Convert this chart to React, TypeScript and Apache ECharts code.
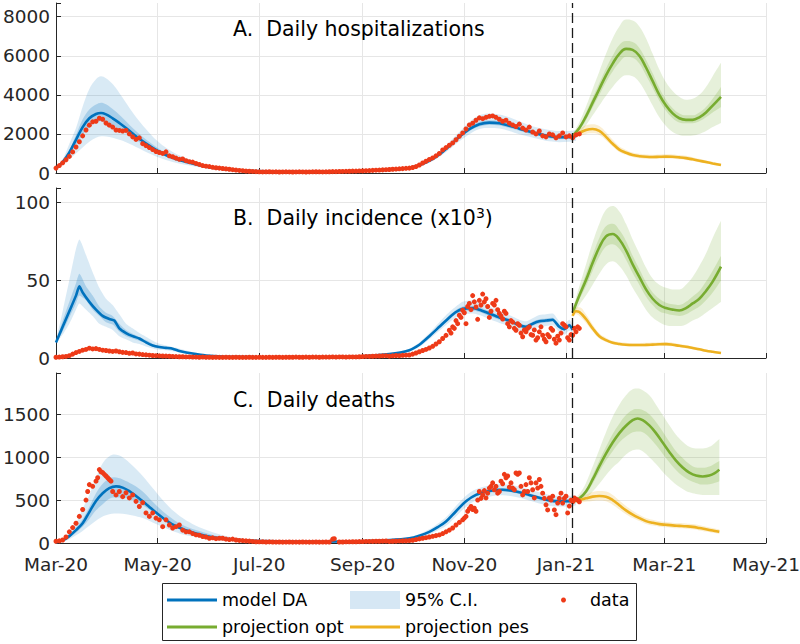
import { useEffect, useRef } from 'react';
import * as echarts from 'echarts';

const FONT = "'DejaVu Sans', sans-serif";

// x = day offset from 1 Mar 2020 (day 0) to 1 May 2021 (day 426)
const dayCount = 427;
const projectionStartDay = 310;
const monthNames = ['Jan', 'Feb', 'Mar', 'Apr', 'May', 'Jun', 'Jul', 'Aug', 'Sep', 'Oct', 'Nov', 'Dec'];

// ---------------- A. Daily hospitalizations ----------------
const hospData = [[0,250],[2,380],[4,520],[6,680],[8,850],[10,1080],[12,1330],[14,1600],[16,1900],[18,2200],[20,2450],[22,2620],[24,2650],[26,2800],[28,2750],[30,2560],[32,2450],[34,2350],[36,2200],[38,2180],[40,2150],[42,2180],[44,2000],[46,1850],[48,1720],[50,1800],[52,1500],[54,1400],[56,1300],[58,1200],[60,1100],[62,1050],[64,1000],[66,1080],[68,880],[70,830],[72,760],[74,700],[76,720],[78,630],[80,580],[82,560],[84,490],[86,440],[88,380],[90,350],[92,330],[94,290],[96,270],[98,250],[100,230],[102,210],[104,190],[106,170],[108,150],[110,130],[112,120],[114,100],[116,90],[118,80],[120,70],[122,60],[124,55],[126,60],[128,65],[130,55],[132,60],[134,50],[136,55],[138,60],[140,55],[142,50],[144,55],[146,60],[148,55],[150,50],[152,55],[154,60],[156,65],[158,60],[160,55],[162,60],[164,65],[166,70],[168,70],[170,75],[172,80],[174,85],[176,90],[178,95],[180,100],[182,105],[184,110],[186,120],[188,125],[190,135],[192,145],[194,150],[196,160],[198,170],[200,180],[202,190],[204,200],[206,215],[208,225],[210,240],[212,250],[214,280],[216,330],[218,410],[220,510],[222,600],[224,690],[226,770],[228,880],[230,1000],[232,1180],[234,1300],[236,1420],[238,1540],[240,1700],[242,1880],[244,2050],[246,2250],[248,2460],[250,2550],[252,2700],[254,2820],[256,2780],[258,2850],[260,2900],[262,2920],[264,2850],[266,2750],[268,2650],[270,2700],[272,2550],[274,2460],[276,2380],[278,2500],[280,2300],[282,2200],[284,2350],[286,2100],[288,2000],[290,2150],[292,1900],[294,1850],[296,2000],[298,1950],[300,1800],[302,1900],[304,2050],[306,1850],[308,1900],[310,1800],[312,1950],[314,2000]];
const hospModel = [[0,250],[4,560],[8,1050],[12,1700],[16,2350],[20,2800],[24,3020],[27,3070],[30,3000],[34,2800],[38,2560],[42,2300],[46,2020],[50,1750],[55,1450],[60,1180],[65,960],[70,780],[75,640],[80,520],[86,400],[92,300],[100,210],[110,140],[120,100],[135,70],[150,60],[165,65],[180,90],[195,140],[205,190],[212,260],[218,400],[224,620],[230,950],[236,1380],[242,1850],[248,2250],[254,2500],[260,2580],[266,2550],[272,2420],[278,2270],[284,2120],[290,1990],[296,1880],[302,1830],[308,1850],[312,1900]];
// [day, lower, upper]
const hospCIOuter = [[0,200,300],[4,380,700],[8,700,1500],[12,1000,2300],[16,1300,3400],[20,1600,4300],[24,1800,4800],[27,1880,4950],[30,1870,4850],[34,1800,4550],[38,1700,4100],[42,1580,3600],[46,1420,3100],[50,1250,2650],[55,1030,2150],[60,850,1700],[65,690,1350],[70,560,1080],[75,460,870],[80,380,700],[86,290,530],[92,220,400],[100,160,290],[110,110,190],[120,80,130],[135,55,90],[150,48,75],[165,52,80],[180,75,110],[195,120,165],[205,160,220],[212,220,300],[218,340,470],[224,530,720],[230,820,1100],[236,1200,1580],[242,1620,2100],[248,1980,2600],[254,2250,2950],[260,2300,3050],[266,2280,3000],[272,2150,2850],[278,1980,2650],[284,1850,2450],[290,1730,2300],[296,1620,2200],[302,1580,2150],[308,1600,2150],[312,1650,2200]];
const hospCIInner = [[0,240,260],[4,500,620],[8,930,1180],[12,1450,1950],[16,1950,2750],[20,2350,3250],[24,2580,3500],[27,2650,3600],[30,2600,3520],[34,2450,3280],[38,2250,2980],[42,2040,2650],[46,1800,2300],[50,1570,2000],[55,1300,1650],[60,1060,1340],[65,870,1080],[70,710,880],[75,585,720],[80,480,580],[86,370,440],[92,280,330],[100,195,230],[110,130,150],[120,92,108],[135,65,75],[150,56,64],[165,60,70],[180,85,95],[195,130,150],[205,180,200],[212,245,275],[218,375,425],[224,585,655],[230,900,1000],[236,1310,1450],[242,1760,1940],[248,2140,2360],[254,2380,2620],[260,2460,2700],[266,2430,2670],[272,2300,2540],[278,2160,2380],[284,2010,2230],[290,1890,2090],[296,1780,1980],[302,1730,1930],[308,1750,1950],[312,1800,2000]];
const hospOpt = [[310,1900],[314,2300],[318,2900],[322,3600],[326,4300],[330,5000],[334,5600],[338,6100],[342,6350],[346,6300],[350,6000],[354,5400],[358,4700],[362,4000],[366,3450],[370,3050],[374,2800],[378,2720],[382,2720],[386,2850],[390,3100],[394,3450],[399,3900]];
const hospOptOuter = [[310,1800,2000],[314,2050,2600],[318,2450,3400],[322,2950,4300],[326,3450,5200],[330,3950,6100],[334,4400,6900],[338,4800,7500],[342,5000,7850],[346,4950,7800],[350,4650,7500],[354,4100,6900],[358,3450,6100],[362,2850,5300],[366,2400,4650],[370,2100,4200],[374,1950,3900],[378,1900,3750],[382,1920,3800],[386,2000,4000],[390,2150,4400],[394,2350,4950],[399,2560,5640]];
const hospOptInner = [[310,1860,1940],[314,2200,2400],[318,2700,3100],[322,3350,3850],[326,4000,4600],[330,4650,5350],[334,5200,6000],[338,5650,6550],[342,5950,6750],[346,5900,6700],[350,5600,6400],[354,5000,5800],[358,4350,5100],[362,3700,4350],[366,3180,3750],[370,2800,3320],[374,2580,3050],[378,2540,2950],[382,2550,2950],[386,2650,3100],[390,2850,3380],[394,3100,3800],[399,3380,4400]];
const hospPes = [[310,1900],[314,2050],[318,2200],[322,2250],[326,2150],[330,1850],[334,1500],[338,1200],[342,1040],[346,920],[350,860],[354,830],[358,820],[362,830],[366,840],[370,830],[374,800],[378,760],[382,700],[386,630],[390,560],[394,490],[399,410]];
const hospPesBand = [[310,1850,1950],[314,1900,2250],[318,2000,2450],[322,2030,2500],[326,1950,2400],[330,1680,2080],[334,1360,1700],[338,1080,1370],[342,930,1180],[346,820,1050],[350,760,980],[354,730,950],[358,720,940],[362,730,950],[366,740,960],[370,730,950],[374,700,920],[378,660,880],[382,610,810],[386,545,730],[390,480,650],[394,420,570],[399,350,480]];

// ---------------- B. Daily incidence (x10^3) ----------------
const incData = [[0,0.5],[2,0.6],[4,0.8],[6,1],[8,1.5],[10,2.5],[12,3.5],[14,4.2],[16,5],[18,5.5],[20,6.3],[22,5.8],[24,6],[26,5.5],[28,5],[30,4.8],[32,4.5],[34,4.2],[36,4.5],[38,4],[40,3.6],[42,3.5],[44,3],[46,3.2],[48,2.6],[50,2.5],[52,2.2],[54,2],[56,1.8],[58,1.6],[60,1.5],[62,1.4],[64,1.3],[66,1.2],[68,1.1],[70,1],[72,0.9],[74,0.8],[76,0.8],[78,0.7],[80,0.7],[82,0.6],[84,0.6],[86,0.5],[88,0.6],[90,0.5],[92,0.5],[94,0.4],[96,0.5],[98,0.4],[100,0.4],[102,0.5],[104,0.4],[106,0.4],[108,0.5],[110,0.4],[112,0.4],[114,0.4],[116,0.5],[118,0.4],[120,0.4],[122,0.5],[124,0.4],[126,0.4],[128,0.5],[130,0.4],[132,0.5],[134,0.5],[136,0.4],[138,0.5],[140,0.5],[142,0.5],[144,0.6],[146,0.5],[148,0.5],[150,0.6],[152,0.5],[154,0.6],[156,0.6],[158,0.5],[160,0.6],[162,0.6],[164,0.6],[166,0.7],[168,0.6],[170,0.7],[172,0.7],[174,0.6],[176,0.7],[178,0.7],[180,0.7],[182,0.8],[184,0.9],[186,1],[188,1],[190,1.1],[192,1.2],[194,1.3],[196,1.4],[198,1.5],[200,1.2],[202,1.4],[204,1.6],[206,1.5],[208,1.7],[210,1.8],[212,1.9],[214,2.5],[216,3.2],[218,4],[220,4.8],[222,5.5],[224,6.4],[226,7.5],[228,9],[230,10.4],[232,12.5],[234,14.5],[236,17.8],[237,16],[238,20],[239,19],[240,24],[241,22],[242,27.4],[243,26],[244,30.6],[245,29],[246,22],[247,33],[248,35],[249,31],[250,40],[251,36],[252,32.7],[253,24.8],[254,37],[255,34],[256,41],[257,36],[258,38],[259,33],[260,26],[261,30],[262,35],[263,34],[264,37],[265,31],[266,28.6],[267,27],[268,25],[269,30],[270,28.6],[271,22],[272,20],[273,24],[274,23],[275,19],[276,17.8],[277,22],[278,21],[279,16],[280,13.6],[281,18],[282,16.8],[283,19],[284,20],[285,15],[286,14.6],[287,18],[288,11.5],[289,13],[290,16.8],[291,20],[292,14.6],[293,12],[294,10.4],[295,15],[296,13.6],[297,19],[298,17.8],[299,12],[300,9.5],[301,14],[302,11.5],[303,16],[304,22],[305,21],[306,20],[307,13],[308,11.5],[309,15],[310,14.6],[311,19],[312,16.8],[313,20],[314,19]];
const incModel = [[0,10],[4,20],[8,30],[12,40],[14,46],[16,42],[20,36],[24,31],[28,27],[32,25],[35,24],[38,19],[42,16],[46,14],[50,12.5],[54,10],[58,8],[62,7],[66,6.5],[70,6],[74,4.5],[78,3.5],[84,2.5],[90,1.6],[100,1],[120,0.6],[150,0.5],[180,0.9],[200,2.5],[212,5],[218,8.5],[224,14],[230,20],[236,26],[240,29.5],[244,31.5],[250,32],[254,31],[260,28.5],[266,26],[272,24],[278,21],[282,20],[286,22],[290,23.5],[294,24],[298,24.5],[302,20],[305,18.5],[308,21],[310,18]];
const incCIOuter = [[0,9,11],[4,15,30],[8,22,50],[12,31,70],[14,35,76],[18,31,66],[22,27,55],[26,22,45],[30,20,38],[34,18,34],[38,14,28],[42,12,22],[46,10,19],[50,9,16],[55,7,13],[60,5.5,10],[66,5,8],[72,4,6.5],[80,2.8,4.2],[90,1.2,2],[100,0.7,1.3],[120,0.4,0.8],[150,0.3,0.7],[180,0.6,1.2],[200,2,3],[212,4,6],[218,7,10],[224,12,16],[230,17.5,23],[236,23,29.5],[240,26,33],[244,28,36],[250,28.5,37],[254,27.5,36],[260,25,33],[266,22.5,30],[272,20.5,27.5],[278,17.5,24.5],[282,16.5,23.5],[286,18.5,25.5],[290,20,27.5],[294,20.5,28],[298,21,28.5],[302,16.5,23.5],[305,15,22],[308,17.5,24.5],[310,16,21]];
const incCIInner = [[0,9.5,10.5],[4,17,24],[8,26,36],[12,35,48],[14,40,54],[18,37,46],[22,31,40],[26,27,33],[30,23,29],[34,21.5,27],[38,17,22],[42,14,18],[46,12.5,15.5],[50,11,13.5],[55,9,11],[60,6.4,8],[66,5.8,7.1],[72,4.8,5.8],[80,3.1,3.8],[90,1.4,1.8],[100,0.9,1.1],[120,0.5,0.7],[150,0.4,0.6],[180,0.8,1],[200,2.3,2.7],[212,4.6,5.4],[218,8,9],[224,13.2,14.8],[230,19,21],[236,24.8,27.2],[240,28.2,30.8],[244,30,33],[250,30.5,33.5],[254,29.5,32.5],[260,27,30],[266,24.6,27.4],[272,22.6,25.4],[278,19.7,22.3],[282,18.7,21.3],[286,20.7,23.3],[290,22.2,24.8],[294,22.7,25.3],[298,23.2,25.8],[302,18.7,21.3],[305,17.2,19.8],[308,19.7,22.3],[310,17.2,18.8]];
const incOpt = [[310,29],[314,40],[318,50],[322,61],[326,71],[330,78],[334,79.5],[338,76],[342,69],[346,60],[350,52],[354,44],[358,38],[362,34],[366,32],[370,31],[374,30.5],[378,32],[382,35],[386,38],[390,43],[394,49],[399,58.6]];
const incOptOuter = [[310,27,31],[314,34,46],[318,40,60],[322,47,74],[326,54,86],[330,60,95],[334,62,97.5],[338,59,94],[342,53,86],[346,45,76],[350,38,67],[354,31,58],[358,26,51],[362,23,47],[366,21,45],[370,20.5,44],[374,20.5,44],[378,21.5,47],[382,24,52],[386,26,59],[390,29,67],[394,32,77],[399,36,88]];
const incOptInner = [[310,28,30],[314,37.5,42.5],[318,46,54],[322,56,66],[326,65,77],[330,71.5,84.5],[334,73,86],[338,70,82],[342,63,75],[346,54.5,65.5],[350,47,57],[354,39.5,48.5],[358,34,42],[362,30,38],[366,28.5,35.5],[370,27.5,34.5],[374,27,34],[378,28,36],[382,30.5,39.5],[386,33,43],[390,37,49],[394,42,56],[399,49.7,65.6]];
const incPes = [[310,27],[312,30],[314,29.5],[318,25],[322,19],[326,14],[330,11.5],[334,9.8],[338,9],[342,8.5],[346,8.3],[350,8.3],[354,8.4],[358,8.6],[362,8.8],[366,8.9],[370,8.5],[374,7.8],[378,7.2],[382,6.4],[386,5.6],[390,4.7],[394,4],[399,3.2]];
const incPesBand = [[310,26,28],[312,28,32.5],[314,27,32.5],[318,22.5,28],[322,17,21.5],[326,12.5,15.8],[330,10.3,13],[334,8.8,11],[338,8,10.2],[342,7.5,9.7],[346,7.3,9.5],[350,7.3,9.5],[354,7.4,9.7],[358,7.6,9.9],[362,7.8,10.1],[366,7.9,10.2],[370,7.5,9.8],[374,6.9,9],[378,6.3,8.3],[382,5.6,7.4],[386,4.8,6.5],[390,4,5.5],[394,3.4,4.7],[399,2.7,3.8]];

// ---------------- C. Daily deaths ----------------
const deathData = [[0,20],[2,25],[4,35],[6,70],[8,130],[10,180],[12,230],[14,310],[16,390],[18,500],[19,600],[20,680],[22,660],[24,720],[25,760],[26,855],[27,830],[28,820],[29,800],[30,780],[31,760],[32,740],[33,720],[34,600],[36,560],[38,600],[40,540],[42,585],[44,525],[46,560],[48,485],[50,425],[52,470],[54,350],[56,310],[58,350],[60,290],[62,270],[64,190],[66,270],[68,210],[70,175],[72,190],[74,210],[76,150],[78,130],[80,130],[82,110],[84,95],[86,90],[88,75],[90,70],[92,55],[94,60],[96,50],[98,55],[100,55],[102,45],[104,40],[106,45],[108,35],[110,30],[112,28],[114,25],[116,22],[118,18],[120,15],[122,14],[124,15],[126,12],[128,13],[130,12],[132,11],[134,12],[136,10],[138,11],[140,12],[142,10],[144,11],[146,10],[148,12],[150,11],[152,10],[154,11],[156,12],[158,10],[160,11],[162,12],[164,11],[166,45],[167,50],[170,12],[172,12],[174,14],[176,14],[178,15],[180,15],[182,16],[184,17],[186,18],[188,18],[190,19],[192,20],[194,20],[196,22],[198,23],[200,18],[202,20],[204,22],[206,24],[208,25],[210,26],[212,28],[214,32],[216,40],[218,48],[220,55],[222,62],[224,70],[226,78],[228,86],[230,94],[232,110],[234,130],[236,150],[238,175],[240,210],[242,240],[244,270],[245,290],[246,310],[247,370],[248,400],[249,425],[250,390],[251,405],[252,370],[253,500],[254,600],[255,520],[256,560],[257,610],[258,525],[259,580],[260,640],[261,660],[262,700],[263,620],[264,660],[265,580],[266,600],[267,720],[268,690],[269,800],[270,760],[271,780],[272,650],[273,700],[274,640],[275,620],[276,815],[277,800],[278,815],[279,660],[280,560],[281,600],[282,680],[283,600],[284,760],[285,700],[286,620],[287,525],[288,700],[289,640],[290,740],[291,660],[292,580],[293,520],[294,445],[295,385],[296,525],[297,500],[298,545],[299,385],[300,330],[301,465],[302,520],[303,580],[304,465],[305,520],[306,545],[307,350],[308,430],[309,500],[310,480],[311,525],[312,510],[313,500],[314,480]];
const deathModel = [[0,5],[4,30],[8,80],[12,150],[16,230],[20,360],[24,490],[28,580],[32,640],[36,660],[40,645],[44,605],[48,548],[52,485],[56,420],[60,355],[66,265],[72,195],[78,148],[84,112],[90,82],[100,52],[110,35],[120,25],[140,18],[160,15],[180,20],[200,35],[212,55],[218,85],[224,130],[229,185],[234,250],[240,370],[246,485],[252,560],[260,605],[268,620],[276,600],[284,560],[292,515],[300,488],[308,488],[312,495]];
const deathCIOuter = [[0,2,10],[4,15,45],[8,45,120],[12,90,230],[16,140,400],[20,200,560],[24,260,760],[28,310,930],[32,335,1010],[35,345,1030],[40,340,1000],[46,320,900],[52,290,780],[58,240,640],[64,190,500],[70,140,380],[76,100,290],[84,70,200],[92,45,140],[100,30,90],[110,20,55],[120,15,35],[140,12,25],[160,10,20],[180,14,26],[200,25,45],[212,40,70],[218,65,105],[224,100,160],[229,145,225],[234,200,300],[240,310,430],[246,420,550],[252,495,625],[260,540,670],[268,555,685],[276,535,665],[284,495,625],[292,450,580],[300,425,550],[308,425,550],[312,440,550]];
const deathCIInner = [[0,4,6],[4,22,38],[8,65,95],[12,120,180],[16,190,280],[20,280,420],[24,380,580],[28,450,690],[32,515,750],[35,530,765],[40,530,740],[46,500,680],[52,440,600],[58,360,480],[64,280,370],[70,210,280],[76,160,210],[84,115,150],[92,80,105],[100,50,65],[110,32,42],[120,22,30],[140,16,21],[160,13,17],[180,18,23],[200,32,39],[212,51,60],[218,80,91],[224,122,139],[229,175,196],[234,237,264],[240,354,388],[246,467,503],[252,541,580],[260,585,625],[268,600,640],[276,580,620],[284,540,580],[292,495,535],[300,468,508],[308,468,508],[312,475,515]];
const deathOpt = [[310,485],[314,520],[318,600],[322,740],[326,895],[330,1040],[334,1170],[338,1280],[342,1365],[346,1430],[349,1450],[352,1430],[356,1370],[360,1280],[364,1170],[368,1060],[372,960],[376,880],[380,820],[384,785],[388,775],[392,785],[395,810],[398,855]];
const deathOptOuter = [[310,470,500],[314,480,570],[318,520,700],[322,600,890],[326,690,1090],[330,790,1290],[334,880,1470],[338,950,1610],[342,1030,1720],[346,1080,1790],[349,1090,1800],[352,1070,1780],[356,1000,1720],[360,920,1610],[364,830,1490],[368,750,1370],[372,680,1260],[376,630,1180],[380,590,1120],[384,570,1100],[388,560,1100],[392,560,1120],[395,560,1160],[398,560,1210]];
const deathOptInner = [[310,478,492],[314,505,535],[318,570,630],[322,690,790],[326,830,960],[330,960,1120],[334,1070,1270],[338,1170,1390],[342,1240,1490],[346,1290,1550],[349,1300,1560],[352,1290,1550],[356,1230,1500],[360,1140,1410],[364,1040,1300],[368,940,1180],[372,850,1070],[376,780,990],[380,730,920],[384,700,880],[388,680,875],[392,685,890],[395,700,920],[398,720,955]];
const deathPes = [[310,485],[314,500],[318,520],[322,540],[326,548],[330,540],[334,500],[338,440],[342,380],[346,330],[350,290],[354,255],[358,235],[362,220],[366,212],[370,205],[374,200],[378,195],[382,188],[386,175],[390,160],[394,145],[398,130]];
const deathPesBand = [[310,470,500],[314,470,530],[318,480,565],[322,490,595],[326,495,605],[330,485,600],[334,445,560],[338,390,495],[342,335,430],[346,290,375],[350,255,330],[354,222,292],[358,203,270],[362,190,253],[366,183,245],[370,176,237],[374,171,232],[378,166,227],[382,159,220],[386,147,206],[390,133,190],[394,119,174],[398,105,158]];

const panelTitles = ['A.  Daily hospitalizations', '{m|B.  Daily incidence (x10}{s|3}{m|)}', 'C.  Daily deaths'];
const yMax = [8700, 109, 1980];
const yInterval = [2000, 50, 500];

const BLUE = '#0072BD';
const GREEN = '#77AC30';
const ORANGE = '#EDB120';
const RED = '#EE3A18';
const AXIS = '#262626';

const panels = [
  { data: hospData, model: hospModel, ciOuter: hospCIOuter, ciInner: hospCIInner, opt: hospOpt, optOuter: hospOptOuter, optInner: hospOptInner, pes: hospPes, pesBand: hospPesBand, smooth: 0.35 },
  { data: incData, model: incModel, ciOuter: incCIOuter, ciInner: incCIInner, opt: incOpt, optOuter: incOptOuter, optInner: incOptInner, pes: incPes, pesBand: incPesBand, smooth: 0.2 },
  { data: deathData, model: deathModel, ciOuter: deathCIOuter, ciInner: deathCIInner, opt: deathOpt, optOuter: deathOptOuter, optInner: deathOptInner, pes: deathPes, pesBand: deathPesBand, smooth: 0.35 },
];

const categories: string[] = [];
for (let i = 0; i < dayCount; i++) {
  categories.push(new Date(Date.UTC(2020, 2, 1 + i)).toISOString().slice(0, 10));
}
const isMonthTick = (_i: number, v: string) => v.slice(8) === '01' && parseInt(v.slice(5, 7), 10) % 2 === 1;
const monthLabel = (v: string) => monthNames[parseInt(v.slice(5, 7), 10) - 1] + '-' + v.slice(2, 4);

function bandSeries(p: number, band: number[][], key: string, name: string, fill: string, smooth: number) {
  const common = { type: 'line', xAxisIndex: p, yAxisIndex: p, stack: key + p, symbol: 'none', smooth, silent: true, z: 1, lineStyle: { width: 0, opacity: 0 } };
  return [
    { ...common, name: 'base', data: band.map((b) => [b[0], b[1]]) },
    { ...common, name, data: band.map((b) => [b[0], b[2] - b[1]]), areaStyle: { color: fill, opacity: 1 }, itemStyle: { color: fill } },
  ];
}

function lineSeries(p: number, data: number[][], name: string, color: string, smooth: number) {
  return { type: 'line', name, xAxisIndex: p, yAxisIndex: p, data, symbol: 'none', smooth, z: 3, lineStyle: { color, width: 2.6 }, itemStyle: { color } };
}

export default function App() {
  const ref = useRef<HTMLDivElement>(null);
  useEffect(() => {
    document.body.style.margin = '0';
    if (!ref.current) return;
    const chart = echarts.init(ref.current, null, { renderer: 'svg' });
    const tops = [3, 188, 373];
    const grids = tops.map((t) => ({ left: 56, right: 34, top: t, height: 170, outerBoundsMode: 'none' }));
    const xAxes = tops.map((_t, p) => ({
      type: 'category', gridIndex: p, data: categories, boundaryGap: false,
      axisLine: { show: true, lineStyle: { color: AXIS, width: 1 } },
      axisTick: { show: true, inside: true, length: 5, interval: isMonthTick, lineStyle: { color: AXIS } },
      axisLabel: { show: p === 2, interval: isMonthTick, formatter: monthLabel, fontFamily: FONT, fontSize: 18.5, color: AXIS, margin: 12 },
      splitLine: { show: true, interval: isMonthTick, lineStyle: { color: '#e6e6e6', width: 1 } },
    }));
    const yAxes = tops.map((_t, p) => ({
      type: 'value', gridIndex: p, min: 0, max: yMax[p], interval: yInterval[p],
      axisLine: { show: true, lineStyle: { color: AXIS, width: 1 } },
      axisTick: { show: true, inside: true, length: 5, lineStyle: { color: AXIS } },
      axisLabel: { fontFamily: FONT, fontSize: 18.5, color: AXIS, margin: 6, formatter: (v: number) => (v % yInterval[p] === 0 ? String(v) : '') },
      splitLine: { show: true, showMaxLine: false, lineStyle: { color: '#e6e6e6', width: 1 } },
    }));

    const series: any[] = [];
    panels.forEach((pn, p) => {
      series.push(...bandSeries(p, pn.ciOuter, 'ciO', '95% C.I.', 'rgba(0,114,189,0.15)', pn.smooth));
      series.push(...bandSeries(p, pn.ciInner, 'ciI', '95% C.I.', 'rgba(0,114,189,0.22)', pn.smooth));
      series.push(...bandSeries(p, pn.optOuter, 'optO', 'opt band', 'rgba(119,172,48,0.18)', 0.4));
      series.push(...bandSeries(p, pn.optInner, 'optI', 'opt band', 'rgba(119,172,48,0.22)', 0.4));
      series.push(...bandSeries(p, pn.pesBand, 'pesO', 'pes band', 'rgba(237,177,32,0.2)', 0.4));
      series.push(lineSeries(p, pn.model, 'model DA', BLUE, pn.smooth));
      series.push(lineSeries(p, pn.opt, 'projection opt', GREEN, 0.4));
      series.push(lineSeries(p, pn.pes, 'projection pes', ORANGE, 0.4));
      series.push({
        type: 'scatter', name: 'data', xAxisIndex: p, yAxisIndex: p, data: pn.data,
        symbol: 'circle', symbolSize: 5, itemStyle: { color: RED, opacity: 1 }, z: 4,
        markLine: {
          silent: true, symbol: ['none', 'none'], label: { show: false },
          lineStyle: { color: '#1a1a1a', type: [10, 5], width: 1.3 },
          data: [{ xAxis: categories[projectionStartDay] }],
        },
      });
    });

    const legendText = { fontFamily: FONT, fontSize: 17.5, color: '#000', lineHeight: 20 };
    const legendBase = { orient: 'horizontal', padding: 0, selectedMode: false, textStyle: legendText };
    const titleStyle = { fontFamily: FONT, fontSize: 20.5, fontWeight: 'normal', color: '#000', lineHeight: 24 };

    chart.setOption({
      animation: false,
      backgroundColor: '#fff',
      grid: grids,
      xAxis: xAxes,
      yAxis: yAxes,
      title: [
        { text: panelTitles[0], left: 233, top: 17, padding: 0, textStyle: titleStyle },
        { text: panelTitles[1], left: 233, top: 206, padding: 0, textStyle: { ...titleStyle, rich: { m: { ...titleStyle }, s: { fontFamily: FONT, fontSize: 14, color: '#000', verticalAlign: 'top', lineHeight: 13 } } } },
        { text: panelTitles[2], left: 233, top: 388, padding: 0, textStyle: titleStyle },
      ],
      legend: [
        { ...legendBase, data: [{ name: 'model DA', icon: 'rect' }], left: 167, top: 590, itemWidth: 50, itemHeight: 3 },
        { ...legendBase, data: [{ name: '95% C.I.', icon: 'rect', itemStyle: { color: '#d6e7f4' } }], left: 350, top: 590, itemWidth: 50, itemHeight: 18 },
        { ...legendBase, data: [{ name: 'data', icon: 'circle' }], left: 561, top: 590, itemWidth: 5, itemHeight: 5, textStyle: { ...legendText, padding: [0, 0, 0, 19] } },
        { ...legendBase, data: [{ name: 'projection opt', icon: 'rect' }], left: 167, top: 617, itemWidth: 50, itemHeight: 3 },
        { ...legendBase, data: [{ name: 'projection pes', icon: 'rect' }], left: 350, top: 617, itemWidth: 50, itemHeight: 3 },
      ],
      graphic: [
        { type: 'rect', z: 0, shape: { x: 162.5, y: 583.5, width: 474, height: 57 }, style: { fill: '#fff', stroke: AXIS, lineWidth: 1 } },
      ],
      series,
    });
    return () => chart.dispose();
  }, []);
  return <div ref={ref} style={{ width: 800, height: 644 }} />;
}
